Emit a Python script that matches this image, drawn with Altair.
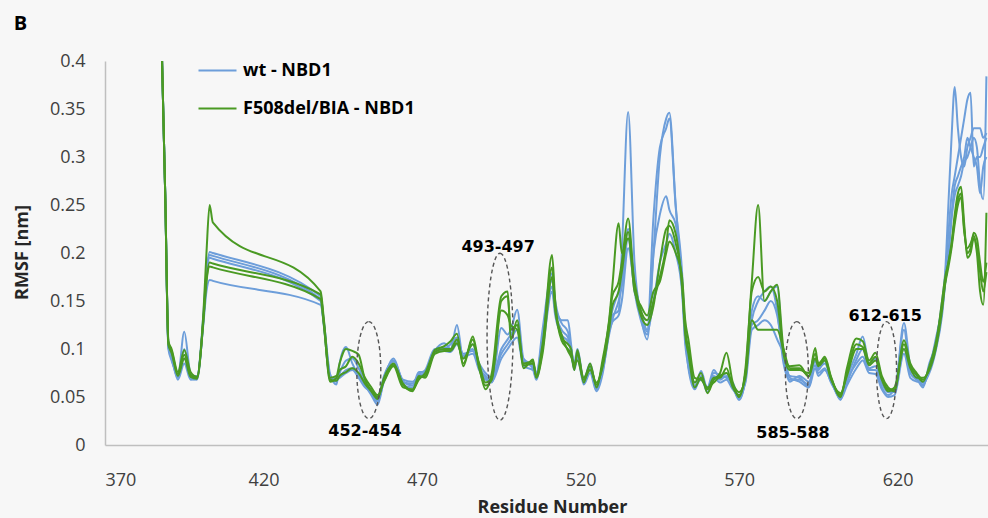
import altair as alt
import pandas as pd

# Residue numbers sampled along NBD1 (the regulatory insertion 405-437 is absent)
residues = [
    388, 389, 390, 391, 393, 395, 397, 399, 401, 402,
    403, 404, 438, 439, 441, 443, 444, 446, 448, 450,
    452, 454, 456, 458, 461, 464, 467, 469, 471, 474,
    477, 479, 481, 483, 486, 488, 490, 492, 495, 497,
    498, 500, 502, 505, 506, 508, 511, 512, 514, 516,
    517, 518, 519, 521, 523, 525, 527, 529, 530, 532,
    533, 535, 537, 539, 541, 543, 545, 547, 548, 550,
    552, 553, 554, 556, 558, 560, 562, 564, 566, 568,
    570, 572, 574, 576, 578, 580, 582, 584, 586, 589,
    592, 594, 595, 597, 599, 602, 604, 607, 609, 611,
    613, 615, 617, 619, 622, 624, 626, 628, 630, 632,
    634, 635, 636, 637, 638, 639, 640, 641, 642, 643,
    644, 645, 646, 647, 648,
]

# RMSF [nm] per replica, wild type
wt_1 = [
    .40, .26, .105, .095, .072, .118, .074, .070, .135, .180,
    .201, .200, .155, .130, .074, .063, .085, .102, .085, .072,
    .062, .052, .042, .068, .090, .066, .062, .076, .076, .098,
    .106, .100, .125, .090, .105, .082, .070, .065, .122, .115,
    .120, .141, .090, .082, .072, .120, .179, .150, .130, .130,
    .105, .080, .095, .065, .080, .058, .080, .120, .135, .140,
    .200, .347, .190, .135, .110, .200, .300, .340, .346, .250,
    .170, .120, .080, .058, .072, .060, .078, .070, .075, .062,
    .047, .070, .140, .155, .150, .160, .165, .090, .072, .070,
    .061, .090, .080, .085, .070, .047, .070, .095, .113, .085,
    .090, .068, .058, .055, .127, .082, .070, .060, .085, .105,
    .150, .180, .250, .320, .373, .330, .300, .290, .310, .320,
    .330, .330, .330, .320, .325,
]
wt_2 = [
    .40, .26, .103, .090, .070, .100, .070, .068, .130, .178,
    .198, .197, .152, .127, .070, .066, .075, .088, .090, .080,
    .066, .055, .045, .070, .087, .065, .064, .074, .078, .100,
    .100, .105, .112, .093, .100, .080, .072, .067, .100, .110,
    .115, .125, .085, .085, .075, .110, .172, .145, .127, .118,
    .100, .085, .100, .068, .085, .060, .085, .125, .140, .160,
    .170, .225, .170, .140, .120, .238, .310, .330, .340, .248,
    .180, .115, .085, .060, .077, .058, .075, .073, .070, .065,
    .050, .075, .130, .150, .160, .165, .140, .085, .068, .068,
    .063, .088, .078, .088, .068, .050, .065, .089, .100, .080,
    .082, .064, .055, .056, .120, .078, .072, .062, .080, .110,
    .145, .175, .220, .260, .280, .300, .320, .340, .360, .367,
    .290, .300, .300, .310, .320,
]
wt_3 = [
    .40, .26, .100, .088, .074, .090, .072, .072, .128, .175,
    .195, .194, .150, .125, .068, .070, .072, .078, .080, .072,
    .063, .054, .047, .066, .084, .062, .060, .073, .074, .096,
    .102, .098, .108, .095, .098, .085, .075, .070, .095, .105,
    .110, .120, .088, .080, .070, .105, .165, .140, .120, .112,
    .097, .078, .090, .070, .078, .062, .078, .115, .130, .150,
    .165, .215, .160, .130, .115, .200, .240, .259, .245, .230,
    .165, .110, .090, .065, .070, .055, .072, .068, .072, .060,
    .048, .068, .125, .130, .140, .150, .135, .092, .066, .072,
    .066, .083, .075, .080, .065, .052, .068, .085, .092, .078,
    .078, .060, .052, .058, .100, .075, .068, .063, .078, .100,
    .140, .170, .200, .240, .270, .280, .290, .300, .320, .310,
    .300, .290, .262, .290, .300,
]
wt_4 = [
    .40, .26, .102, .092, .068, .085, .068, .069, .125, .160,
    .172, .171, .146, .128, .072, .068, .070, .075, .078, .070,
    .060, .056, .050, .072, .088, .068, .066, .072, .075, .097,
    .098, .097, .105, .092, .095, .078, .068, .066, .090, .100,
    .105, .112, .082, .078, .068, .100, .160, .135, .115, .108,
    .100, .082, .092, .063, .075, .056, .075, .118, .128, .135,
    .150, .205, .165, .135, .118, .150, .190, .210, .220, .200,
    .160, .105, .082, .062, .068, .060, .070, .065, .068, .058,
    .052, .065, .120, .125, .130, .125, .110, .095, .070, .066,
    .060, .080, .072, .078, .066, .048, .062, .080, .088, .075,
    .074, .058, .050, .052, .095, .070, .066, .065, .075, .098,
    .135, .168, .195, .235, .260, .270, .280, .295, .300, .310,
    .320, .310, .270, .256, .384,
]

# RMSF [nm] per replica, F508del with BIA
mut_1 = [
    .40, .26, .108, .100, .076, .099, .076, .071, .135, .200,
    .250, .232, .160, .132, .070, .072, .085, .100, .098, .094,
    .068, .057, .050, .068, .085, .063, .056, .070, .072, .099,
    .103, .108, .116, .082, .113, .082, .058, .075, .155, .160,
    .110, .130, .080, .089, .071, .100, .198, .150, .112, .105,
    .100, .078, .099, .065, .085, .060, .090, .130, .165, .231,
    .200, .215, .170, .140, .130, .150, .175, .207, .234, .220,
    .165, .120, .100, .065, .075, .054, .068, .075, .096, .065,
    .050, .080, .170, .250, .150, .160, .167, .100, .082, .083,
    .071, .101, .083, .092, .071, .050, .080, .111, .108, .088,
    .096, .072, .060, .056, .109, .085, .075, .068, .080, .102,
    .150, .175, .190, .210, .240, .262, .269, .230, .195, .200,
    .215, .200, .160, .146, .242,
]
mut_2 = [
    .40, .26, .106, .098, .074, .094, .073, .070, .130, .172,
    .190, .189, .157, .128, .066, .070, .078, .082, .092, .085,
    .070, .060, .052, .066, .082, .060, .058, .068, .075, .097,
    .100, .100, .110, .085, .110, .080, .062, .068, .150, .155,
    .120, .125, .083, .085, .072, .105, .185, .144, .109, .100,
    .095, .080, .095, .070, .082, .063, .085, .128, .155, .170,
    .190, .236, .165, .135, .125, .145, .190, .225, .228, .210,
    .170, .115, .095, .060, .070, .058, .070, .070, .080, .060,
    .052, .075, .160, .175, .160, .165, .150, .095, .078, .078,
    .075, .095, .085, .090, .070, .052, .075, .105, .102, .085,
    .092, .070, .058, .058, .105, .082, .073, .066, .082, .106,
    .145, .170, .190, .208, .235, .255, .262, .225, .200, .205,
    .221, .215, .190, .170, .190,
]
mut_3 = [
    .40, .26, .104, .096, .072, .090, .071, .069, .128, .170,
    .186, .185, .152, .126, .068, .067, .072, .076, .080, .075,
    .064, .056, .048, .070, .083, .064, .057, .072, .070, .095,
    .098, .098, .106, .090, .105, .085, .065, .070, .140, .135,
    .125, .120, .085, .087, .070, .095, .175, .140, .115, .098,
    .092, .085, .088, .068, .078, .065, .082, .120, .145, .160,
    .180, .222, .160, .145, .135, .160, .170, .200, .212, .200,
    .175, .130, .110, .070, .068, .060, .065, .072, .075, .063,
    .055, .070, .130, .120, .120, .120, .120, .100, .080, .080,
    .072, .090, .082, .088, .068, .054, .072, .100, .100, .083,
    .088, .068, .056, .060, .100, .080, .070, .070, .078, .100,
    .140, .168, .185, .205, .230, .250, .258, .222, .205, .210,
    .218, .205, .180, .160, .180,
]

WT = "wt - NBD1"
MUT = "F508del/BIA - NBD1"

# Highlighted residue ranges: label, centre residue, centre RMSF, label position
region_labels = ["452-454", "493-497", "585-588", "612-615"]
region_centre_res = [453.2, 494.6, 588.2, 616.5]
region_centre_rmsf = [0.078, 0.1128, 0.078, 0.078]
label_res = [452.0, 494.0, 587.0, 616.1]
label_rmsf = [0.0146, 0.206, 0.0125, 0.134]

x_ticks = [370, 420, 470, 520, 570, 620]
y_ticks = [0, 0.05, 0.1, 0.15, 0.2, 0.25, 0.3, 0.35, 0.4]

BLUE = "#6d9eda"
GREEN = "#4a9a23"


def long_table(system, reps):
    rows = []
    for name, vals in reps.items():
        assert len(vals) == len(residues), name
        for r, v in zip(residues, vals):
            rows.append({"residue": r, "rmsf": v, "system": system, "replica": name})
    return pd.DataFrame(rows)


wt_df = long_table(WT, {"wt_1": wt_1, "wt_2": wt_2, "wt_3": wt_3, "wt_4": wt_4})
mut_df = long_table(MUT, {"mut_1": mut_1, "mut_2": mut_2, "mut_3": mut_3})

x_enc = alt.X(
    "residue:Q",
    scale=alt.Scale(domain=[370, 648.5], nice=False, zero=False),
    axis=alt.Axis(
        values=x_ticks, title="Residue Number", labelPadding=26,
        titleX=447, titleY=62, titleAlign="center", titleBaseline="middle",
    ),
)
y_enc = alt.Y(
    "rmsf:Q",
    scale=alt.Scale(domain=[0, 0.4], nice=False),
    axis=alt.Axis(
        values=y_ticks, format=".2~f", title="RMSF [nm]", labelPadding=20,
        titleX=-83, titleY=191, titleAngle=270, titleAlign="center",
        titleBaseline="middle",
    ),
)
legend = alt.Legend(
    title=None, orient="none", legendX=92, legendY=-11,
    symbolType="stroke", symbolSize=1444, symbolStrokeWidth=2.2,
    labelFont="Open Sans", labelFontSize=18, labelFontWeight="bold",
    labelColor="#000000", labelOffset=5, labelLimit=0, rowPadding=8, padding=0,
)
color_enc = alt.Color(
    "system:N",
    scale=alt.Scale(domain=[WT, MUT], range=[BLUE, GREEN]),
    legend=legend,
)

line_kw = dict(interpolate="monotone", strokeWidth=2, clip=True)
wt_lines = alt.Chart(wt_df).mark_line(**line_kw).encode(
    x=x_enc, y=y_enc, color=color_enc, detail="replica:N"
)
mut_lines = alt.Chart(mut_df).mark_line(**line_kw).encode(
    x=x_enc, y=y_enc, color=color_enc, detail="replica:N"
)

# Dashed ellipses drawn as custom symbols centred on each highlighted region
ellipse_px = [(24, 97), (26, 167), (23, 97), (20, 97)]
ellipses = []
for i, (w, h) in enumerate(ellipse_px):
    a = w / h
    path = f"M0,-1A{a:.4f},1 0 1,1 0,1A{a:.4f},1 0 1,1 0,-1Z"
    edf = pd.DataFrame({"residue": [region_centre_res[i]], "rmsf": [region_centre_rmsf[i]]})
    ellipses.append(
        alt.Chart(edf).mark_point(
            shape=path, size=h * h, filled=False, color="#555555",
            strokeWidth=1.4, strokeDash=[4, 3], opacity=1,
        ).encode(x="residue:Q", y="rmsf:Q")
    )

label_df = pd.DataFrame({"label": region_labels, "residue": label_res, "rmsf": label_rmsf})
labels = alt.Chart(label_df).mark_text(
    font="DejaVu Sans", fontSize=16, fontWeight="bold", color="#000000",
    align="center", baseline="middle",
).encode(x="residue:Q", y="rmsf:Q", text="label:N")

panel_df = pd.DataFrame({"tag": ["B"]})
panel = alt.Chart(panel_df).mark_text(
    font="Open Sans", fontSize=20, fontWeight="bold", color="#000000",
    align="center", baseline="alphabetic",
).encode(text="tag:N", x=alt.value(-84.5), y=alt.value(-31))

chart = (
    alt.layer(wt_lines, mut_lines, *ellipses, labels, panel)
    .properties(
        width=883, height=384,
        autosize=alt.AutoSizeParams(type="none"),
        padding={"left": 105, "top": 61, "right": 0, "bottom": 73},
    )
    .configure(background="#f7f7f7")
    .configure_view(stroke=None)
    .configure_axis(
        grid=False, ticks=False, tickSize=0,
        domainColor="#bfbfbf", domainWidth=1.5,
        labelFont="Open Sans", labelFontSize=18, labelColor="#404040",
        titleFont="Open Sans", titleFontSize=18, titleFontWeight="bold",
        titleColor="#262626",
    )
)

chart.save("out.html", embed_options={"renderer": "svg", "actions": False})
